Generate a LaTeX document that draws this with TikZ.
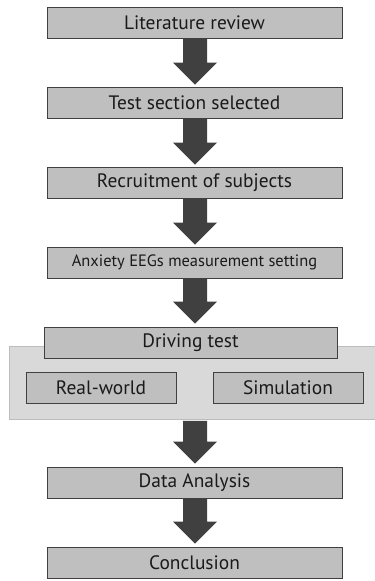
\documentclass[tikz,border=0pt]{standalone}
\usepackage{fontspec}
\setmainfont{PT Sans}
\usetikzlibrary{calc}
\definecolor{boxfill}{HTML}{BFBFBF}
\definecolor{boxline}{HTML}{404040}
\definecolor{panelfill}{HTML}{D9D9D9}
\definecolor{panelline}{HTML}{BDBDBD}
\definecolor{arrowc}{HTML}{404040}
\definecolor{txt}{HTML}{1A1A1A}
\tikzset{
  stepbox/.style={draw=boxline, line width=0.9bp, fill=boxfill, text=txt,
    minimum width=295bp, minimum height=31bp, inner sep=0pt,
    font=\fontsize{19.5}{21}\selectfont},
  subbox/.style={stepbox, minimum width=150bp},
  panelbox/.style={draw=panelline, line width=0.9bp, fill=panelfill,
    minimum width=367bp, minimum height=73bp, inner sep=0pt},
}
\newcommand\bigarrow[2]{%
  \fill[arrowc] let \p1=(#1), \p2=(#2) in
    (\x1-12bp,\y1) -- (\x1+12bp,\y1) -- (\x1+12bp,\y2+22bp) --
    (\x1+22bp,\y2+22bp) -- (\x1,\y2) -- (\x1-22bp,\y2+22bp) --
    (\x1-12bp,\y2+22bp) -- cycle;}
\begin{document}
\begin{tikzpicture}[x=1bp,y=-1bp]
\useasboundingbox (0,0) rectangle (374,581);
\node[stepbox] (lit) at (194.5,23) {Literature review};
\node[stepbox] (test) at (194.5,102.5) {Test section selected};
\node[stepbox] (rec) at (194.5,182.5) {Recruitment of subjects};
\node[stepbox, font=\fontsize{16.5}{18}\selectfont] (eeg) at (194.5,262.5) {Anxiety EEGs measurement setting};
\node[panelbox] (panel) at (192.5,382.5) {};
\node[stepbox, minimum width=293bp] (drive) at (190.5,342.5) {Driving test};
\node[subbox] (real) at (101,387.5) {Real-world};
\node[subbox] (sim) at (288,387.5) {Simulation};
\node[stepbox] (data) at (194.5,482.5) {Data Analysis};
\node[stepbox] (conc) at (194.5,562.5) {Conclusion};
\coordinate (a1s) at ($(lit.south)+(0.5,0)$);
\bigarrow{a1s}{$(a1s |- test.north)+(0,-2)$}
\coordinate (a2s) at ($(test.south)+(0.5,0)$);
\bigarrow{a2s}{$(a2s |- rec.north)+(0,-2)$}
\coordinate (a3s) at ($(rec.south)+(0.5,0)$);
\bigarrow{a3s}{$(a3s |- eeg.north)+(0,-2)$}
\coordinate (a4s) at ($(eeg.south)+(0.5,0)$);
\bigarrow{a4s}{$(a4s |- drive.north)+(0,-3)$}
\coordinate (a5s) at ($(a4s |- panel.south)+(0,1.5)$);
\bigarrow{a5s}{$(a5s |- data.north)+(0,-3)$}
\coordinate (a6s) at ($(data.south)+(0.5,0)$);
\bigarrow{a6s}{$(a6s |- conc.north)+(0,-3)$}
\end{tikzpicture}
\end{document}
